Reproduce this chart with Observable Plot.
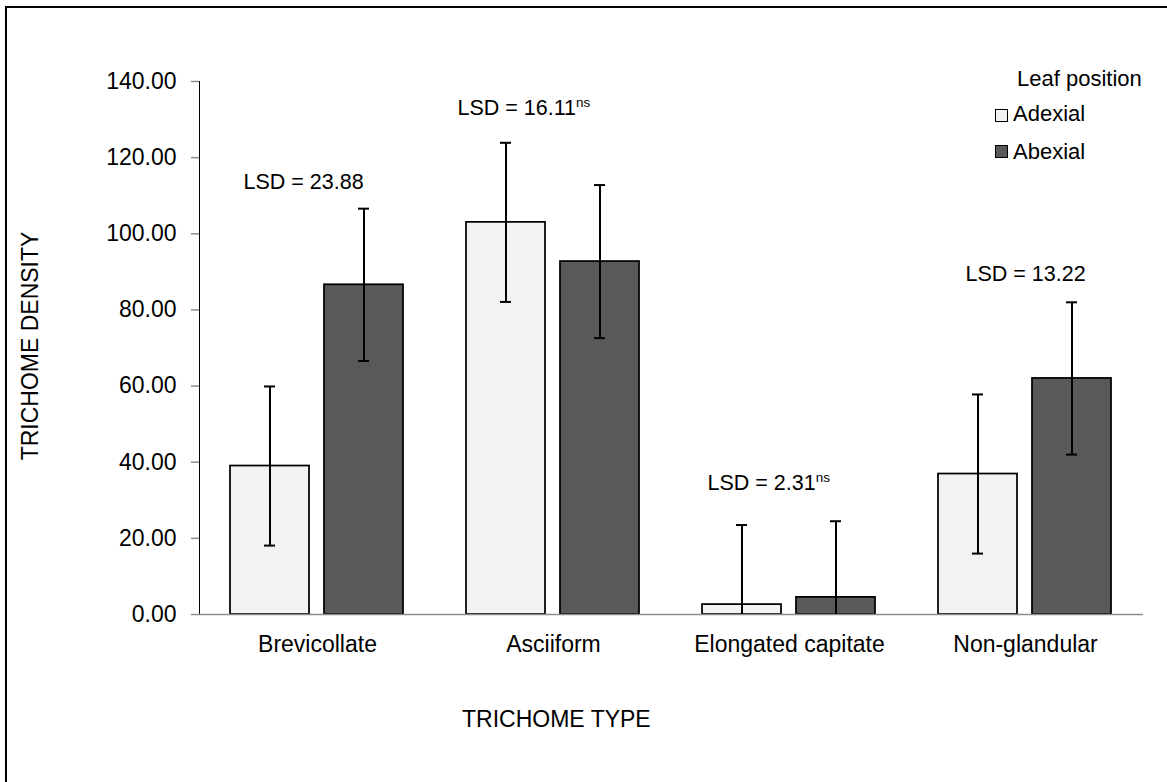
<!DOCTYPE html>
<html>
<head>
<meta charset="utf-8">
<script src="https://cdn.jsdelivr.net/npm/d3@7"></script>
<script src="https://cdn.jsdelivr.net/npm/@observablehq/plot@0.6"></script>
<style>
  body { margin: 0; background: #fff; font-family: "Liberation Sans", Arial, sans-serif; }
  #wrap { position: relative; width: 1167px; height: 782px; overflow: hidden; background: #fff; }
  #chart { position: absolute; left: 0; top: 0; }
  .frame { position: absolute; left: 5px; top: 6px; width: 3000px; height: 3000px;
           border-left: 2.5px solid #000; border-top: 2.5px solid #000; }
  .lbl { position: absolute; white-space: nowrap; line-height: 1; color: #000; }
  .sw { position: absolute; width: 11px; height: 11px; border: 1.5px solid #000; }
</style>
</head>
<body>
<div id="wrap">
  <div class="frame"></div>
  <div id="chart"></div>
  <div class="lbl" style="left:30px; top:346px; font-size:23px; transform: translate(-50%,-50%) rotate(-90deg);">TRICHOME DENSITY</div>
  <div class="lbl" style="left:462px; top:708px; font-size:23px;">TRICHOME TYPE</div>
  <div id="legend"></div>
</div>
<script>
// ---- data ----
const categories = ["Brevicollate", "Asciiform", "Elongated capitate", "Non-glandular"];
const series = ["Adexial", "Abexial"];
const adexial = [39.0, 103.0, 2.6, 36.9];
const abexial = [86.6, 92.7, 4.5, 62.0];
const adexialErr = [20.9, 20.9, 20.9, 20.9];
const abexialErr = [20.0, 20.1, 20.0, 20.0];
const lsdLabels = ["LSD = 23.88", "LSD = 16.11", "LSD = 2.31", "LSD = 13.22"];
const lsdNs = [false, true, true, false];
const lsdY = [113.6, 133.0, 34.5, 89.4];
const yTicks = [0, 20, 40, 60, 80, 100, 120, 140];
const legendTitle = "Leaf position";
const seriesColors = ["#f2f2f2", "#595959"];

// ---- tables ----
const rows = categories.flatMap((c, i) => [
  {category: c, series: "Adexial", value: adexial[i], err: adexialErr[i]},
  {category: c, series: "Abexial", value: abexial[i], err: abexialErr[i]}
]);
rows.forEach(d => { d.lo = Math.max(0, d.value - d.err); d.hi = d.value + d.err; });
const lsdRows = categories.map((c, i) => ({category: c, label: lsdLabels[i], ns: lsdNs[i], y: lsdY[i]}));
const lsdDx = [-74, -96, -82, -60];

const font = '"Liberation Sans", Arial, sans-serif';

const chart = Plot.plot({
  width: 1167,
  height: 782,
  marginLeft: 198,
  marginRight: 24,
  marginTop: 81,
  marginBottom: 168,
  style: {fontFamily: font, fontSize: "23px", color: "#000", background: "transparent", overflow: "visible"},
  fx: {domain: categories, padding: 0, axis: "bottom", tickSize: 0, tickPadding: 21, label: null},
  x: {domain: series, axis: null, paddingInner: 0.158, paddingOuter: 0.3225},
  y: {domain: [0, 140], ticks: yTicks, tickFormat: d3.format(".2f"), tickSize: 8, tickPadding: 15, label: null, line: true},
  color: {domain: series, range: seriesColors},
  marks: [
    Plot.barY(rows, {fx: "category", x: "series", y: "value", fill: "series", stroke: "#000", strokeWidth: 1.75}),
    Plot.ruleY([0], {stroke: "#8c8c8c", strokeWidth: 1.5}),
    Plot.ruleX(rows, {fx: "category", x: "series", y1: "lo", y2: "hi", stroke: "#000", strokeWidth: 2}),
    Plot.tickY(rows, {fx: "category", x: "series", y: "hi", stroke: "#000", strokeWidth: 2, insetLeft: 34, insetRight: 34}),
    Plot.tickY(rows.filter(d => d.value - d.err > 0), {fx: "category", x: "series", y: "lo", stroke: "#000", strokeWidth: 2, insetLeft: 34, insetRight: 34}),
    ...lsdRows.map((d, i) => Plot.text([d], {
      fx: "category", y: "y", text: "label", textAnchor: "start", dx: lsdDx[i],
      fontSize: 21.5, fill: "#000"
    }))
  ]
});
document.getElementById("chart").appendChild(chart);

// superscript "ns"
const nsLabels = new Set(lsdRows.filter(d => d.ns).map(d => d.label));
d3.select(chart).selectAll("text")
  .filter(function() { return nsLabels.has(this.textContent); })
  .append("tspan").attr("dy", "-8px").attr("font-size", "13.5px").text("ns");

// gray axis line and ticks
d3.select(chart).selectAll('[aria-label^="y-axis"]').each(function() {
  const lab = this.getAttribute("aria-label");
  if (lab.includes("label")) return;
  const s = d3.select(this);
  if (this.getAttribute("stroke")) s.attr("stroke", "#8c8c8c");
  s.selectAll("line, path").attr("stroke", "#8c8c8c").attr("stroke-width", 1.5);
});

// legend
const leg = document.getElementById("legend");
const t = document.createElement("div");
t.className = "lbl"; t.style.cssText = "left:1017px; top:68px; font-size:22px;"; t.textContent = legendTitle;
leg.appendChild(t);
series.forEach((s, i) => {
  const sw = document.createElement("div");
  sw.className = "sw";
  sw.style.left = "995px"; sw.style.top = (109 + i * 35.5) + "px"; sw.style.background = seriesColors[i];
  leg.appendChild(sw);
  const l = document.createElement("div");
  l.className = "lbl"; l.style.cssText = `left:1013px; top:${103 + i * 37.5}px; font-size:22px;`;
  l.textContent = s;
  leg.appendChild(l);
});
</script>
</body>
</html>
